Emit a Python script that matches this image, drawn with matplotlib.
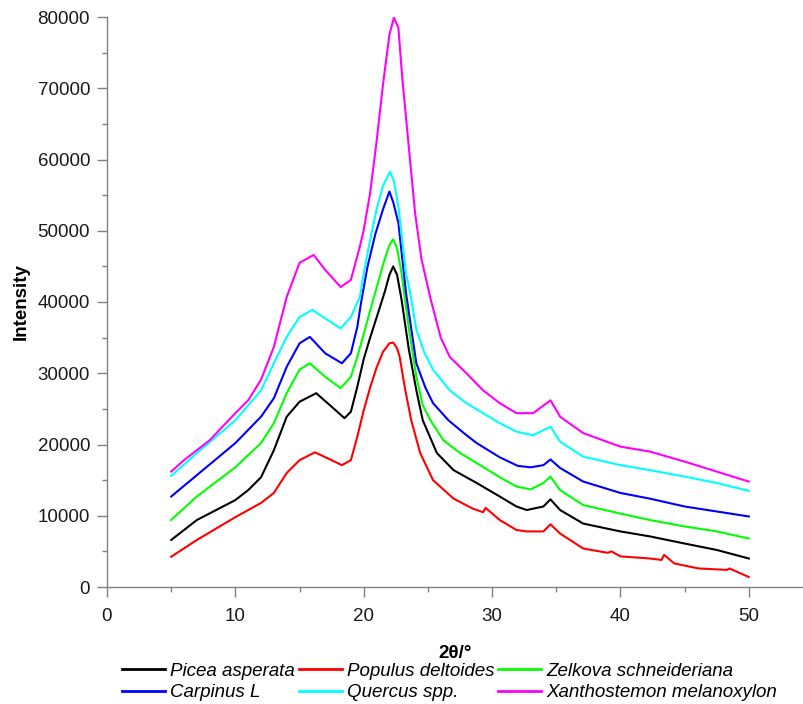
import matplotlib
matplotlib.use("Agg")
import matplotlib.pyplot as plt
from matplotlib.ticker import MultipleLocator

plt.rcParams['font.family'] = ['Liberation Sans', 'DejaVu Sans']

# ---- data ----
names = ["Picea asperata", "Populus deltoides", "Zelkova schneideriana",
         "Carpinus L", "Quercus spp.", "Xanthostemon melanoxylon"]
colors = ["#000000", "#ff0000", "#00ff00", "#0000ff", "#00ffff", "#ff00ff"]

picea_x = [5, 7, 10, 11, 12, 13, 14, 15, 16.3, 17.5, 18.5, 19, 19.5, 20, 20.5, 21, 21.65, 22.0, 22.3, 22.6,
           22.95, 23.5, 24.1, 24.6, 25.7, 27.0, 28.8, 30.6, 31.9, 32.7, 34.0, 34.55, 35.3, 37.1, 40, 42.3,
           45, 47.5, 50]
picea_y = [6.6, 9.4, 12.2, 13.6, 15.4, 19.2, 23.9, 26.0, 27.2, 25.3, 23.7, 24.6, 28.1, 32.0, 35.0, 37.8, 41.5, 43.8, 45.0, 43.8,
           40.3, 33.5, 27.6, 23.4, 18.8, 16.4, 14.6, 12.7, 11.3, 10.8, 11.3, 12.3, 10.8, 8.9, 7.8, 7.1,
           6.1, 5.2, 4.0]

populus_x = [5, 7, 10, 12, 13, 14, 15, 16.2, 17.5, 18.3, 19, 19.5, 20, 20.5, 21, 21.5, 22.0, 22.3, 22.6, 22.8,
             23.2, 23.7, 24.4, 25.4, 27.0, 28.5, 29.3, 29.5, 30.6, 31.9, 32.7, 34.0, 34.55, 35.3, 37.1, 39.0,
             39.3, 40, 42.3, 43.2, 43.4, 44.2, 46.1, 48.3, 48.5, 50]
populus_y = [4.25, 6.6, 9.8, 11.8, 13.2, 16.0, 17.8, 18.9, 17.8, 17.1, 17.8, 21.1, 24.8, 28.0, 30.8, 33.0, 34.2, 34.3, 33.5, 32.3,
             28.0, 23.4, 18.8, 15.0, 12.4, 11.0, 10.5, 11.1, 9.4, 8.0, 7.8, 7.8, 8.8, 7.5, 5.4, 4.8,
             5.0, 4.3, 4.0, 3.8, 4.5, 3.3, 2.6, 2.4, 2.6, 1.4]

zelkova_x = [5, 7, 10, 12, 13, 14, 15, 15.8, 17, 18.2, 19, 19.5, 20, 20.5, 21, 21.5, 22.0, 22.3, 22.6, 22.95,
             23.5, 24.1, 24.6, 25.2, 26.2, 27.5, 28.8, 30.6, 31.9, 33.0, 34.0, 34.55, 35.3, 37.1, 40, 42.3,
             45, 47.5, 50]
zelkova_y = [9.4, 12.7, 16.8, 20.2, 23.0, 27.2, 30.5, 31.4, 29.5, 27.9, 29.5, 32.3, 35.5, 38.8, 42.0, 45.2, 48.0, 48.8, 47.5, 44.0,
             36.5, 29.5, 25.5, 23.4, 20.6, 18.8, 17.4, 15.4, 14.1, 13.7, 14.6, 15.5, 13.6, 11.5, 10.3, 9.4,
             8.5, 7.8, 6.8]

carpinus_x = [5, 7, 10, 12, 13, 14, 15, 15.8, 17, 18.3, 19, 19.5, 19.8, 20.3, 20.9, 21.5, 22.0, 22.3, 22.7,
              23.3, 24.1, 24.8, 25.4, 26.6, 27.8, 28.8, 30.6, 32.0, 33.0, 34.0, 34.55, 35.3, 37.1, 40, 42.3,
              45, 47.5, 50]
carpinus_y = [12.7, 15.7, 20.2, 23.9, 26.5, 30.9, 34.2, 35.1, 32.8, 31.4, 32.8, 36.5, 40.0, 45.0, 49.5, 53.0, 55.5, 54.0, 51.1,
              41.2, 31.4, 28.0, 25.8, 23.4, 21.6, 20.2, 18.2, 17.0, 16.8, 17.1, 17.9, 16.7, 14.8, 13.2, 12.4,
              11.3, 10.6, 9.9]

quercus_x = [5, 7, 10, 12, 13, 14, 15, 16, 17, 18.2, 19, 19.7, 20.0, 20.5, 21.0, 21.5, 22.05, 22.35, 22.7,
             23.3, 23.6, 24.1, 24.7, 25.4, 26.7, 28, 29.3, 30.6, 31.9, 33.2, 34.55, 35.3, 37.1, 40, 42.3,
             45, 47.5, 50]
quercus_y = [15.6, 18.8, 23.4, 27.6, 31.4, 35.1, 37.9, 38.9, 37.7, 36.3, 37.9, 40.7, 44.0, 48.7, 53.0, 56.3, 58.3, 57.0, 53.4,
             44.0, 41.5, 36.1, 33.0, 30.5, 27.6, 25.8, 24.4, 23.0, 21.8, 21.3, 22.5, 20.4, 18.3, 17.1, 16.4,
             15.5, 14.6, 13.5]

xantho_x = [5, 6, 7, 8, 9, 10, 11, 12, 13, 14, 15, 16.1, 17, 18.2, 19, 19.7, 20, 20.5, 21, 21.5, 22, 22.35,
            22.7, 23.0, 23.5, 24, 24.5, 25.2, 26, 26.7, 28, 29.3, 30.6, 31.9, 33.2, 34.55, 35.3, 37.1, 40,
            42.3, 45, 47.5, 50]
xantho_y = [16.2, 17.8, 19.2, 20.6, 22.5, 24.4, 26.2, 29.1, 33.7, 40.7, 45.5, 46.6, 44.5, 42.1, 43.1, 47.8, 50.1, 55.3, 62.5, 70.5, 77.5, 79.9,
            78.5, 71.5, 62.0, 52.5, 46.0, 40.5, 35.0, 32.3, 30.0, 27.6, 25.8, 24.4, 24.4, 26.2, 23.9, 21.6, 19.7,
            19.0, 17.6, 16.2, 14.8]

series_x = [picea_x, populus_x, zelkova_x, carpinus_x, quercus_x, xantho_x]
series_y = [picea_y, populus_y, zelkova_y, carpinus_y, quercus_y, xantho_y]

x_ticks = [0, 10, 20, 30, 40, 50]
y_ticks = [0, 10000, 20000, 30000, 40000, 50000, 60000, 70000, 80000]

# ---- figure ----
fig = plt.figure(figsize=(8.04, 7.04), dpi=100)
ax = fig.add_axes([107/804, 1-587/704, (804-107)/804, 570/704])

lines = []
for xs, ys, c, n in zip(series_x, series_y, colors, names):
    ln, = ax.plot(xs, [v * 1000 for v in ys], color=c, lw=1.5, label=n)
    lines.append(ln)

ax.set_xlim(0, 54.3)
ax.set_ylim(0, 80000)
ax.set_xticks(x_ticks)
ax.set_yticks(y_ticks)
ax.xaxis.set_minor_locator(MultipleLocator(5))
ax.yaxis.set_minor_locator(MultipleLocator(5000))

for s in ["top", "right"]:
    ax.spines[s].set_visible(False)
for s in ["left", "bottom"]:
    ax.spines[s].set_color("#808080")
    ax.spines[s].set_linewidth(1.0)

ax.tick_params(which="major", length=7.2, width=1.0, color="#808080",
               labelsize=13.5, labelcolor="#1a1a1a", pad=5)
ax.tick_params(which="minor", length=3.6, width=1.0, color="#808080")
ax.tick_params(axis="x", which="major", pad=8)

ax.set_xlabel("2θ/°", fontsize=13.5, fontweight="bold")
ax.xaxis.set_label_coords(0.5, (587-645)/570)
ax.set_ylabel("Intensity", fontsize=13.5, fontweight="bold")
ax.yaxis.set_label_coords((30-107)/697, 0.5)

order = [0, 3, 1, 4, 2, 5]
leg = fig.legend([lines[i] for i in order], [names[i] for i in order],
                 ncol=3, loc="center", bbox_to_anchor=(449.5/804, 22/704),
                 frameon=False, prop={"style": "italic", "size": 13.5},
                 handlelength=2.3, handletextpad=0.27, columnspacing=0.2,
                 labelspacing=0.25, borderpad=0, borderaxespad=0)
for h in leg.get_lines():
    h.set_linewidth(2.0)

fig.savefig("out.png", dpi=100)
